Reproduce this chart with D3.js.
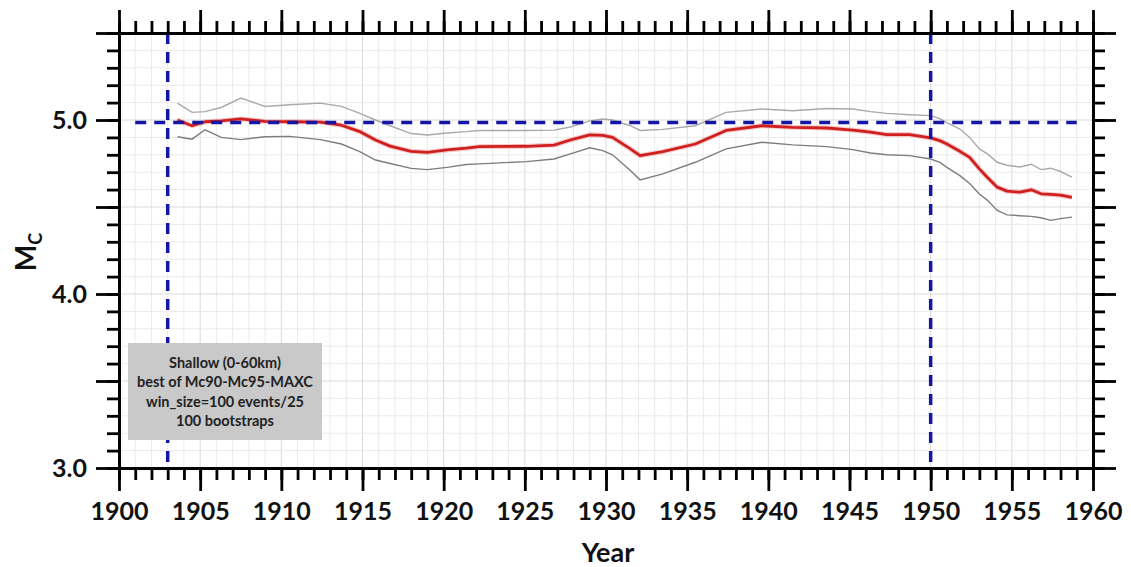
<!DOCTYPE html>
<html>
<head>
<meta charset="utf-8">
<script src="https://cdn.jsdelivr.net/npm/d3@7/dist/d3.min.js"></script>
<style>
  html, body { margin: 0; padding: 0; background: #ffffff; }
  svg { display: block; }
  text { font-family: Lato, "Open Sans", sans-serif; }
</style>
</head>
<body>
<svg id="chart" width="1131" height="567"></svg>
<script>
// ---- data ----
const years = [1903.6, 1904.5, 1905.3, 1906.3, 1907.5, 1909.0, 1910.5, 1912.4, 1913.7, 1914.8,
  1915.8, 1916.7, 1918.0, 1919.0, 1920.2, 1921.4, 1922.2, 1925.1, 1926.8, 1927.8,
  1929.0, 1929.8, 1930.4, 1931.5, 1932.1, 1933.5, 1935.5, 1937.4, 1939.6, 1941.5,
  1943.6, 1945.2, 1946.3, 1947.3, 1948.7, 1950.0, 1950.6, 1951.0, 1951.8, 1952.4,
  1953.0, 1953.5, 1954.1, 1954.7, 1955.5, 1956.2, 1956.8, 1957.4, 1958.0, 1958.7];
const mcMean = [5.000, 4.967, 4.990, 4.995, 5.006, 4.992, 4.990, 4.988, 4.970, 4.935,
  4.885, 4.850, 4.820, 4.814, 4.828, 4.838, 4.847, 4.849, 4.856, 4.885,
  4.915, 4.912, 4.900, 4.834, 4.795, 4.818, 4.862, 4.940, 4.967, 4.958,
  4.954, 4.942, 4.930, 4.916, 4.916, 4.897, 4.880, 4.862, 4.820, 4.785,
  4.719, 4.670, 4.614, 4.591, 4.585, 4.599, 4.576, 4.572, 4.568, 4.556];
const mcUpper = [5.097, 5.044, 5.048, 5.072, 5.126, 5.078, 5.088, 5.097, 5.078, 5.040,
  5.000, 4.967, 4.922, 4.914, 4.925, 4.933, 4.940, 4.940, 4.942, 4.960,
  4.995, 5.006, 5.000, 4.967, 4.940, 4.946, 4.967, 5.044, 5.063, 5.053,
  5.066, 5.063, 5.048, 5.038, 5.030, 5.025, 5.006, 4.985, 4.948, 4.900,
  4.834, 4.805, 4.757, 4.740, 4.730, 4.746, 4.715, 4.723, 4.704, 4.671];
const mcLower = [4.904, 4.890, 4.944, 4.900, 4.887, 4.904, 4.906, 4.887, 4.862, 4.820,
  4.770, 4.750, 4.722, 4.715, 4.728, 4.744, 4.748, 4.761, 4.776, 4.805,
  4.840, 4.824, 4.800, 4.710, 4.656, 4.690, 4.757, 4.834, 4.872, 4.857,
  4.847, 4.830, 4.810, 4.800, 4.795, 4.776, 4.755, 4.728, 4.680, 4.635,
  4.575, 4.538, 4.480, 4.455, 4.450, 4.446, 4.438, 4.423, 4.433, 4.442];
const refMc = 4.985;            // horizontal dashed reference
const refYears = [1903, 1950];  // vertical dashed references
const refLineSpan = [1901, 1959];
const xDomain = [1900, 1960];
const yDomain = [3.0, 5.5];
const xLabelTicks = [1900, 1905, 1910, 1915, 1920, 1925, 1930, 1935, 1940, 1945, 1950, 1955, 1960];
const yLabelTicks = [3.0, 4.0, 5.0];
const legendLines = ["Shallow (0-60km)", "best of Mc90-Mc95-MAXC", "win_size=100 events/25", "100 bootstraps"];

// ---- layout ----
const svg = d3.select("#chart");
const L = 119, R = 1093, T = 33, B = 468;
const x = d3.scaleLinear().domain(xDomain).range([L, R]);
const y = d3.scaleLinear().domain(yDomain).range([B, T]);

const minorX = d3.range(xDomain[0], xDomain[1] + 0.001, 1);
const majorX = d3.range(xDomain[0], xDomain[1] + 0.001, 5);
const minorY = d3.range(0, 26).map(i => +(3 + i * 0.1).toFixed(1));
const majorY = d3.range(0, 6).map(i => +(3 + i * 0.5).toFixed(1));

// grid
const grid = svg.append("g");
grid.selectAll("line.gx").data(minorX.filter(v => v > xDomain[0] && v < xDomain[1])).join("line")
  .attr("x1", d => x(d)).attr("x2", d => x(d)).attr("y1", T).attr("y2", B)
  .attr("stroke", d => d % 5 === 0 ? "#dadada" : "#ebebeb").attr("stroke-width", 1);
grid.selectAll("line.gy").data(minorY.filter(v => v > yDomain[0] && v < yDomain[1])).join("line")
  .attr("x1", L).attr("x2", R).attr("y1", d => y(d)).attr("y2", d => y(d))
  .attr("stroke", d => Math.abs(d * 2 - Math.round(d * 2)) < 1e-6 ? "#dadada" : "#ebebeb").attr("stroke-width", 1);

// data lines
const line = vals => d3.line().x((d, i) => x(years[i])).y(d => y(d))(vals);
svg.append("path").attr("d", line(mcUpper)).attr("fill", "none").attr("stroke", "#a9a9a9").attr("stroke-width", 1.4);
svg.append("path").attr("d", line(mcLower)).attr("fill", "none").attr("stroke", "#7d7d7d").attr("stroke-width", 1.4);
svg.append("path").attr("d", line(mcMean)).attr("fill", "none").attr("stroke", "#f0a0a0").attr("stroke-width", 5).attr("stroke-linejoin", "round").attr("opacity", 0.55);
svg.append("path").attr("d", line(mcMean)).attr("fill", "none").attr("stroke", "#cf1f1f").attr("stroke-width", 2.8).attr("stroke-linejoin", "round");

// dashed reference lines
const blue = "#1616a6";
svg.append("line").attr("x1", x(refLineSpan[0])).attr("x2", x(refLineSpan[1]))
  .attr("y1", y(refMc)).attr("y2", y(refMc))
  .attr("stroke", blue).attr("stroke-width", 3.5).attr("stroke-dasharray", "11,8");
svg.selectAll("line.vref").data(refYears).join("line")
  .attr("x1", d => x(d)).attr("x2", d => x(d)).attr("y1", T).attr("y2", B)
  .attr("stroke", blue).attr("stroke-width", 3.5).attr("stroke-dasharray", "11,8");

// axes
function styleAxis(g) {
  g.selectAll("path.domain").attr("stroke", "#000").attr("stroke-width", 3);
  g.selectAll(".tick line").attr("stroke", "#000").attr("stroke-width", 2.8);
  g.selectAll("text").attr("font-family", "Lato, 'Open Sans', sans-serif").attr("font-weight", "bold").attr("fill", "#111");
}
// bottom
svg.append("g").attr("transform", `translate(0,${B})`)
  .call(d3.axisBottom(x).tickValues(minorX).tickSize(12).tickSizeOuter(0).tickFormat(""))
  .call(styleAxis);
svg.append("g").attr("transform", `translate(0,${B})`)
  .call(d3.axisBottom(x).tickValues(xLabelTicks).tickSize(23).tickSizeOuter(0).tickPadding(11).tickFormat(d3.format("d")))
  .call(styleAxis)
  .call(g => g.selectAll("text").attr("font-size", 25));
// top
svg.append("g").attr("transform", `translate(0,${T})`)
  .call(d3.axisTop(x).tickValues(minorX).tickSize(12).tickSizeOuter(0).tickFormat(""))
  .call(styleAxis);
svg.append("g").attr("transform", `translate(0,${T})`)
  .call(d3.axisTop(x).tickValues(majorX).tickSize(23).tickSizeOuter(0).tickFormat(""))
  .call(styleAxis);
// left
svg.append("g").attr("transform", `translate(${L},0)`)
  .call(d3.axisLeft(y).tickValues(minorY).tickSize(12).tickSizeOuter(0).tickFormat(""))
  .call(styleAxis);
svg.append("g").attr("transform", `translate(${L},0)`)
  .call(d3.axisLeft(y).tickValues(majorY).tickSize(23).tickSizeOuter(0).tickPadding(9)
    .tickFormat(d => yLabelTicks.includes(d) ? d3.format(".1f")(d) : ""))
  .call(styleAxis)
  .call(g => g.selectAll("text").attr("font-size", 25));
// right
svg.append("g").attr("transform", `translate(${R},0)`)
  .call(d3.axisRight(y).tickValues(minorY).tickSize(12).tickSizeOuter(0).tickFormat(""))
  .call(styleAxis);
svg.append("g").attr("transform", `translate(${R},0)`)
  .call(d3.axisRight(y).tickValues(majorY).tickSize(23).tickSizeOuter(0).tickFormat(""))
  .call(styleAxis);

// axis titles
svg.append("text").attr("x", (L + R) / 2 + 2).attr("y", 562).attr("text-anchor", "middle")
  .attr("font-size", 27).attr("font-weight", "bold").attr("fill", "#111").text("Year");
const yt = svg.append("text").attr("transform", "translate(36,252) rotate(-90)")
  .attr("text-anchor", "middle").attr("font-size", 28).attr("font-weight", "bold").attr("fill", "#111");
yt.append("tspan").text("M");
yt.append("tspan").attr("font-size", 18).attr("dy", 6).text("C");

// legend box
const lg = svg.append("g");
lg.append("rect").attr("x", 128).attr("y", 343).attr("width", 194).attr("height", 97).attr("fill", "#c9c9c9");
lg.selectAll("text").data(legendLines).join("text")
  .attr("x", 225).attr("y", (d, i) => 368 + i * 19.3).attr("text-anchor", "middle")
  .attr("font-size", 14.5).attr("font-weight", "bold").attr("fill", "#222").text(d => d);
</script>
</body>
</html>
